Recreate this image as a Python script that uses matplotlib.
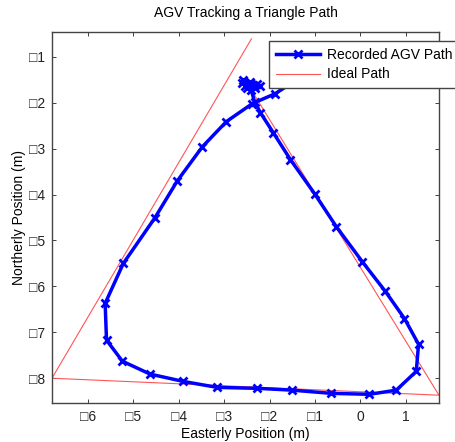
import matplotlib
matplotlib.use("Agg")
import matplotlib.pyplot as plt

plt.rcParams['font.family'] = ['Liberation Sans', 'DejaVu Sans']

# recorded AGV path (east, north), starting from the idle cluster near the top vertex
rec_east = [-2.58, -2.60, -2.53, -2.44, -2.49, -2.36, -2.27, -2.40, -2.31, -2.20, -2.44,
            -2.33, -2.20, -1.92, -1.54, -1.01, -0.53, 0.04, 0.55, 0.97, 1.28, 1.23,
            0.79, 0.20, -0.64, -1.50, -2.27, -3.15, -3.90, -4.63, -5.24, -5.59, -5.62,
            -5.22, -4.52, -4.03, -3.48, -2.95, -2.38, -1.87, -1.34]
rec_north = [-1.50, -1.57, -1.63, -1.54, -1.67, -1.61, -1.59, -1.72, -1.67, -1.63, -1.60,
             -1.98, -2.22, -2.65, -3.24, -3.98, -4.70, -5.46, -6.11, -6.70, -7.26, -7.85,
             -8.26, -8.35, -8.33, -8.26, -8.22, -8.20, -8.07, -7.91, -7.63, -7.17, -6.37,
             -5.50, -4.50, -3.70, -2.96, -2.41, -2.02, -1.80, -1.46]

# ideal triangle path
ideal_east = [-2.47, 1.73, -6.79, -2.40]
ideal_north = [-1.61, -8.37, -8.00, -0.61]

x_ticks = [-6, -5, -4, -3, -2, -1, 0, 1]
y_ticks = [-1, -2, -3, -4, -5, -6, -7, -8]

fig = plt.figure(figsize=(4.55, 4.42), dpi=100)
ax = fig.add_axes([0.1143, 0.0882, 0.8505, 0.8394])

ax.plot(rec_east, rec_north, color='#0000ff', lw=2.5, marker='x', ms=6, mew=2,
        label='Recorded AGV Path', zorder=3)
ax.plot(ideal_east, ideal_north, color='#ff5555', lw=0.8, label='Ideal Path', zorder=2)

ax.set_xlim(-6.79, 1.73)
ax.set_ylim(-8.54, -0.46)

# minus sign rendered as a missing-glyph box, as in the original export
ax.set_xticks(x_ticks)
ax.set_xticklabels([('\u25a1' + str(abs(v))) if v < 0 else str(v) for v in x_ticks])
ax.set_yticks(y_ticks)
ax.set_yticklabels(['\u25a1' + str(abs(v)) for v in y_ticks])

ax.tick_params(direction='in', top=True, right=True, length=3, width=0.6,
               labelsize=10, colors='#222222', pad=5)
for s in ax.spines.values():
    s.set_color('#444444')
    s.set_linewidth(1.0)

ax.set_xlabel('Easterly Position (m)', fontsize=10, labelpad=2)
ax.set_ylabel('Northerly Position (m)', fontsize=10, labelpad=2)
ax.set_title('AGV Tracking a Triangle Path', fontsize=10, pad=11)

leg = ax.legend(loc='upper left', bbox_to_anchor=(269 / 455, 1 - 41 / 442),
                bbox_transform=fig.transFigure, fontsize=10, fancybox=False,
                framealpha=1, edgecolor='#444444', borderpad=0.5, labelspacing=0.4,
                handlelength=3.2, handletextpad=0.5, borderaxespad=0)
leg.get_frame().set_linewidth(1.0)

fig.savefig('out.png', dpi=100)
